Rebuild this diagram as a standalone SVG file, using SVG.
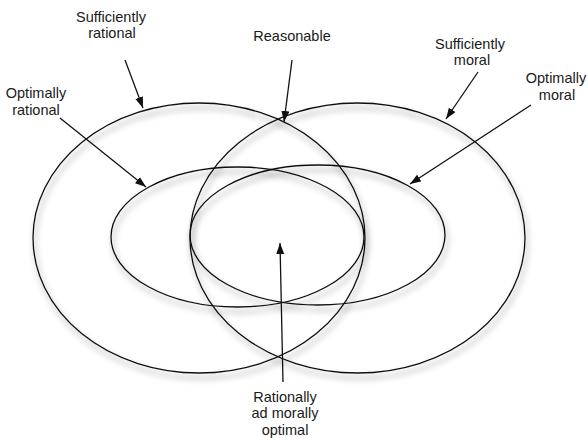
<svg xmlns="http://www.w3.org/2000/svg" width="588" height="438" viewBox="0 0 588 438">
<style>
.set{fill:none;stroke:#111;stroke-width:1.3}
.lbl{font-family:"Liberation Sans",Arial,sans-serif;font-size:14.5px;fill:#1a1a1a;text-anchor:middle}
.arr{fill:none;stroke:#111;stroke-width:1.3;marker-end:url(#ah)}
</style>
<defs>
<filter id="sh" x="-10%" y="-10%" width="120%" height="125%">
<feGaussianBlur in="SourceAlpha" stdDeviation="3" result="b"/>
<feOffset in="b" dx="2" dy="5" result="o"/>
<feComponentTransfer in="o" result="s"><feFuncA type="linear" slope="0.5"/></feComponentTransfer>
<feMerge><feMergeNode in="s"/><feMergeNode in="SourceGraphic"/></feMerge>
</filter>
<marker id="ah" markerUnits="userSpaceOnUse" markerWidth="12" markerHeight="9" refX="11" refY="4" orient="auto">
<path d="M0,0 L11,4 L0,8 z" fill="#111"/>
</marker>
</defs>
<rect width="588" height="438" fill="#fff"/>
<g id="sufficiently-rational">
<ellipse class="set" cx="199" cy="238" rx="166" ry="135" filter="url(#sh)"/>
<text class="lbl" x="111" y="22">Sufficiently</text>
<text class="lbl" x="112" y="38">rational</text>
</g>
<g id="sufficiently-moral">
<ellipse class="set" cx="357.5" cy="238" rx="167.5" ry="135" filter="url(#sh)"/>
<text class="lbl" x="470" y="49">Sufficiently</text>
<text class="lbl" x="472" y="65">moral</text>
</g>
<g id="optimally-rational">
<ellipse class="set" cx="237.5" cy="237" rx="126.5" ry="70" filter="url(#sh)"/>
<text class="lbl" x="36" y="98">Optimally</text>
<text class="lbl" x="36" y="115">rational</text>
</g>
<g id="optimally-moral">
<ellipse class="set" cx="317.5" cy="235" rx="127.5" ry="70" filter="url(#sh)"/>
<text class="lbl" x="556" y="83">Optimally</text>
<text class="lbl" x="557" y="100">moral</text>
</g>
<g id="reasonable">
<text class="lbl" x="292" y="41">Reasonable</text>
</g>
<g id="rationally-and-morally-optimal">
<text class="lbl" x="285" y="402">Rationally</text>
<text class="lbl" x="285" y="418">ad morally</text>
<text class="lbl" x="285" y="435">optimal</text>
</g>
<g id="connectors">
<line class="arr" x1="125" y1="60" x2="143" y2="108"/>
<line class="arr" x1="60" y1="118" x2="146" y2="187"/>
<line class="arr" x1="292" y1="60" x2="284" y2="122"/>
<line class="arr" x1="478" y1="72" x2="446" y2="119"/>
<line class="arr" x1="531" y1="105" x2="410" y2="184"/>
<line class="arr" x1="283" y1="382" x2="280" y2="243"/>
</g>
</svg>
